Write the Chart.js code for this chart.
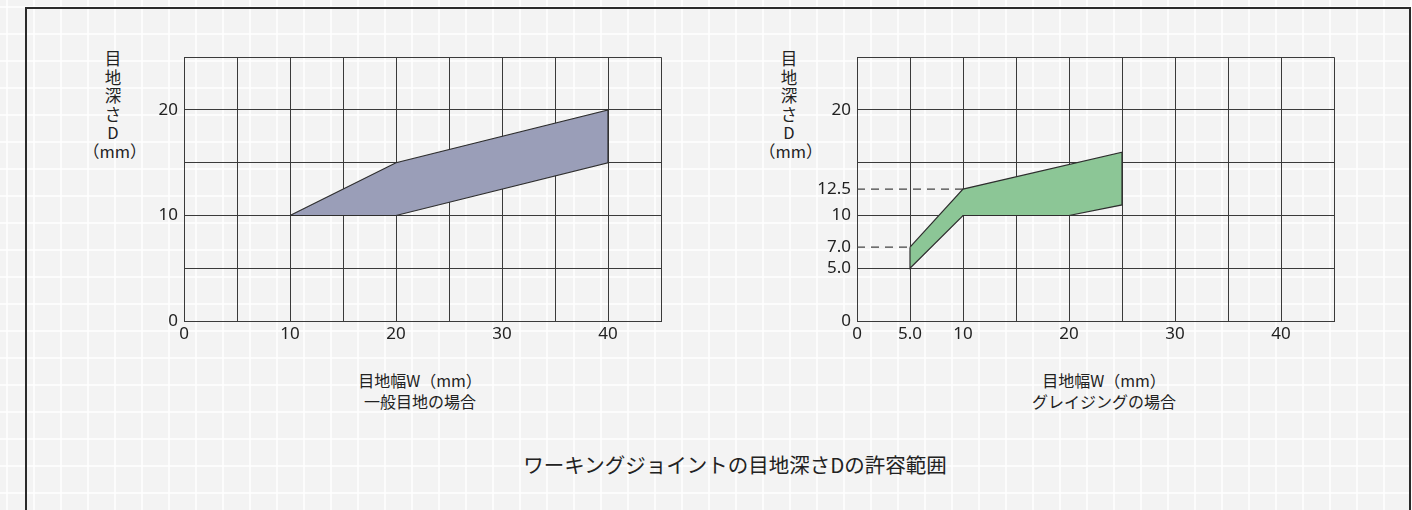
<!DOCTYPE html>
<html>
<head>
<meta charset="utf-8">
<script src="https://cdn.jsdelivr.net/npm/chart.js@4.4.1/dist/chart.umd.min.js"></script>
<style>
  html, body { margin: 0; padding: 0; }
  body {
    width: 1412px; height: 510px; overflow: hidden; position: relative;
    background-color: #f3f3f3;
    background-image:
      linear-gradient(to right, rgba(255,255,255,0.75) 2px, transparent 2px),
      linear-gradient(to bottom, rgba(255,255,255,0.75) 2px, transparent 2px);
    background-size: 27px 27px;
    background-position: 6px 6px;
    font-family: "Noto Sans CJK JP", "Noto Sans", sans-serif;
    color: #222;
  }
  #frame {
    position: absolute; left: 25px; top: 7px; width: 1382px; height: 520px;
    border: 2px solid #2a2a2a; border-bottom: none;
  }
  .cv { position: absolute; }
  .ytitle {
    position: absolute; width: 60px; text-align: center;
    font-size: 16.5px; line-height: 18.5px; transform: translateX(-50%);
  }
  .xtitle {
    position: absolute; text-align: center; white-space: nowrap;
    font-size: 16px; line-height: 21px; transform: translateX(-50%);
  }
  #caption {
    position: absolute; left: 735px; top: 450px; transform: translateX(-50%);
    font-size: 20.5px; white-space: nowrap; line-height: 28px;
  }
</style>
</head>
<body>
<div id="frame"></div>

<div class="ytitle" style="left:113px; top:49px;">目<br>地<br>深<br>さ<br>D<br>（mm）</div>
<div class="ytitle" style="left:789px; top:49px;">目<br>地<br>深<br>さ<br>D<br>（mm）</div>

<div class="xtitle" style="left:420px; top:370px;">目地幅W（mm）<br>一般目地の場合</div>
<div class="xtitle" style="left:1104px; top:370px;">目地幅W（mm）<br>グレイジングの場合</div>

<div id="caption">ワーキングジョイントの目地深さDの許容範囲</div>

<canvas id="c1" class="cv" style="left:130px; top:41px;" width="545" height="314"></canvas>
<canvas id="c2" class="cv" style="left:803px; top:41px;" width="545" height="314"></canvas>

<script>
// ---- Data: general joints (一般目地) ----
const genUpperW = [10, 20, 40];
const genUpperD = [10, 15, 20];
const genLowerW = [10, 20, 40];
const genLowerD = [10, 10, 15];
const genXTicks = [0, 10, 20, 30, 40];
const genYTicks = [0, 10, 20];

// ---- Data: glazing (グレイジング) ----
const glzUpperW = [5, 10, 25];
const glzUpperD = [7, 12.5, 16];
const glzLowerW = [5, 10, 20, 25];
const glzLowerD = [5, 10, 10, 11];
const glzRefW = [5, 10];        // dashed reference lines end at these widths
const glzRefD = [7, 12.5];      // at these depths
const glzXLabels = { 0: '0', 5: '5.0', 10: '10', 20: '20', 30: '30', 40: '40' };
const glzYLabels = { 0: '0', 5: '5.0', 7: '7.0', 10: '10', 12.5: '12.5', 20: '20' };
const glzYTickValues = [0, 5, 7, 10, 12.5, 15, 20, 25];

const GRID = '#3a3a3a';
const TICKFONT = { family: '"Noto Sans", "DejaVu Sans", sans-serif', size: 17 };

function polygon(uw, ud, lw, ld) {
  const pts = uw.map((w, i) => ({ x: w, y: ud[i] }));
  for (let i = lw.length - 1; i >= 0; i--) pts.push({ x: lw[i], y: ld[i] });
  pts.push({ x: uw[0], y: ud[0] });
  return pts;
}

function baseOptions() {
  return {
    responsive: false,
    animation: false,
    events: [],
    layout: { padding: { top: 8, right: 14, left: 0, bottom: 0 } },
    plugins: { legend: { display: false }, tooltip: { enabled: false } },
    elements: { point: { radius: 0 }, line: { tension: 0 } },
  };
}

// ---- Chart 1 ----
const opt1 = baseOptions();
opt1.scales = {
  x: {
    type: 'linear', min: 0, max: 45,
    afterFit: s => { s.height = 34; },
    afterBuildTicks: s => { s.ticks = [0,5,10,15,20,25,30,35,40,45].map(v => ({ value: v })); },
    ticks: {
      padding: 3, color: '#222', font: TICKFONT, maxRotation: 0, autoSkip: false,
      callback: v => genXTicks.includes(v) ? String(v) : ''
    },
    grid: { color: GRID, lineWidth: 1, drawTicks: false },
    border: { color: GRID, width: 1 }
  },
  y: {
    type: 'linear', min: 0, max: 25,
    afterFit: s => { s.width = 54; },
    afterBuildTicks: s => { s.ticks = [0,5,10,15,20,25].map(v => ({ value: v })); },
    ticks: {
      padding: 6, color: '#222', font: TICKFONT, autoSkip: false,
      callback: v => genYTicks.includes(v) ? String(v) : ''
    },
    grid: { color: GRID, lineWidth: 1, drawTicks: false },
    border: { color: GRID, width: 1 }
  }
};
new Chart(document.getElementById('c1'), {
  type: 'scatter',
  data: {
    datasets: [{
      data: polygon(genUpperW, genUpperD, genLowerW, genLowerD),
      showLine: true,
      fill: 'shape',
      backgroundColor: 'rgb(154,158,184)',
      borderColor: '#2e2e2e',
      borderWidth: 1.2
    }]
  },
  options: opt1
});

// ---- Chart 2 ----
const opt2 = baseOptions();
opt2.scales = {
  x: {
    type: 'linear', min: 0, max: 45,
    afterFit: s => { s.height = 34; },
    afterBuildTicks: s => { s.ticks = [0,5,10,15,20,25,30,35,40,45].map(v => ({ value: v })); },
    ticks: {
      padding: 3, color: '#222', font: TICKFONT, maxRotation: 0, autoSkip: false,
      callback: v => (glzXLabels[v] !== undefined ? glzXLabels[v] : '')
    },
    grid: { color: GRID, lineWidth: 1, drawTicks: false },
    border: { color: GRID, width: 1 }
  },
  y: {
    type: 'linear', min: 0, max: 25,
    afterFit: s => { s.width = 54; },
    afterBuildTicks: s => { s.ticks = glzYTickValues.map(v => ({ value: v })); },
    ticks: {
      padding: 6, color: '#222', font: TICKFONT, autoSkip: false,
      callback: v => (glzYLabels[v] !== undefined ? glzYLabels[v] : '')
    },
    grid: {
      drawTicks: false, lineWidth: 1,
      color: c => (c.tick && (c.tick.value === 7 || c.tick.value === 12.5)) ? 'rgba(0,0,0,0)' : GRID
    },
    border: { color: GRID, width: 1 }
  }
};
const refSets = glzRefD.map((d, i) => ({
  data: [{ x: 0, y: d }, { x: glzRefW[i], y: d }],
  showLine: true, fill: false,
  borderColor: '#444', borderWidth: 1.3, borderDash: [8, 6]
}));
new Chart(document.getElementById('c2'), {
  type: 'scatter',
  data: {
    datasets: [{
      data: polygon(glzUpperW, glzUpperD, glzLowerW, glzLowerD),
      showLine: true,
      fill: 'shape',
      backgroundColor: 'rgb(140,198,150)',
      borderColor: '#2e2e2e',
      borderWidth: 1.2
    }].concat(refSets)
  },
  options: opt2
});
</script>
</body>
</html>
